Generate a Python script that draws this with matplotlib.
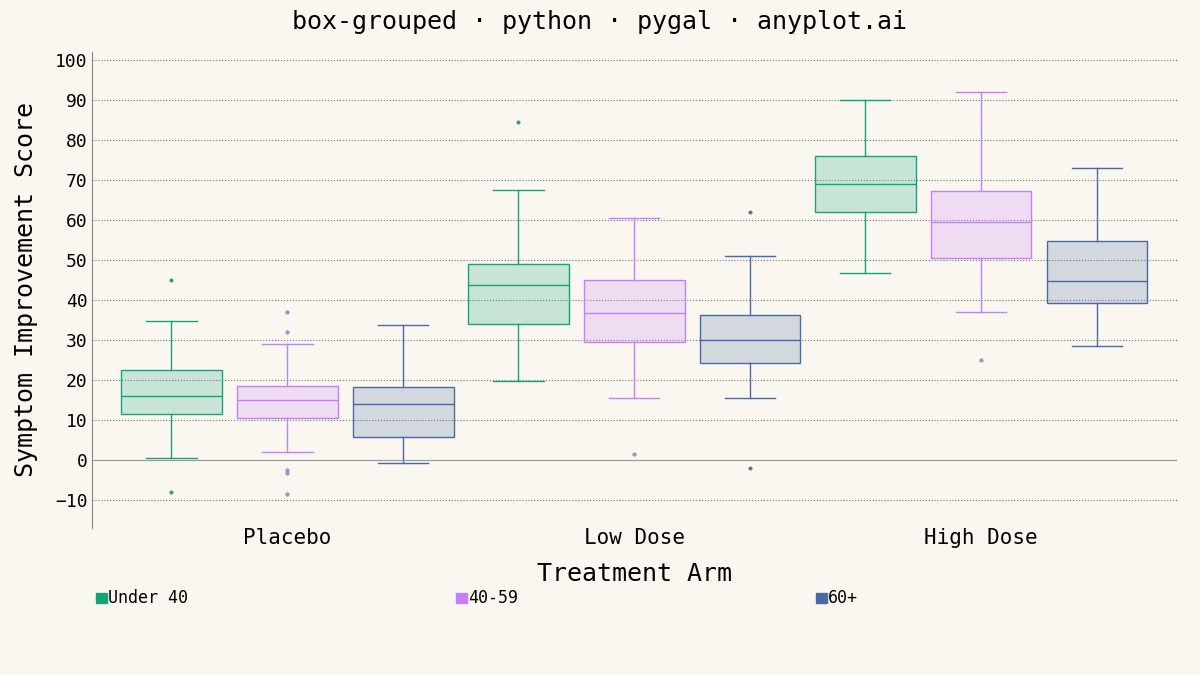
import matplotlib
matplotlib.use("Agg")
import matplotlib.pyplot as plt

groups = ["Placebo", "Low Dose", "High Dose"]
series = ["Under 40", "40-59", "60+"]
colors = ["#16a37a", "#c77dff", "#4a6aa5"]
# [whislo, q1, med, q3, whishi], outliers
stats = {
    "Under 40": [[0.5, 11.5, 16.0, 22.5, 34.8], [19.8, 34.0, 43.8, 49.0, 67.5], [46.8, 62.0, 69.0, 76.0, 90.0]],
    "40-59":    [[2.0, 10.5, 15.0, 18.5, 29.0], [15.5, 29.5, 36.8, 45.0, 60.5], [37.0, 50.5, 59.5, 67.2, 92.0]],
    "60+":      [[-0.8, 5.7, 14.0, 18.3, 33.8], [15.5, 24.3, 30.0, 36.2, 51.0], [28.5, 39.3, 44.8, 54.7, 73.0]],
}
fliers = {
    "Under 40": [[45, -8], [84.5], []],
    "40-59":    [[37, 32, -2.5, -3.2, -8.5], [1.5], [25]],
    "60+":      [[], [62, -2], []],
}

bg = "#faf7f0"
plt.rcParams["font.family"] = "DejaVu Sans Mono"
fig = plt.figure(figsize=(12, 6.75), dpi=100, facecolor=bg)
ax = fig.add_axes([0.077, 0.218, 0.904, 0.705], facecolor=bg)

offsets = [-0.334, 0.0, 0.334]
for si, s in enumerate(series):
    c = colors[si]
    bx = []
    for gi in range(3):
        lo, q1, med, q3, hi = stats[s][gi]
        bx.append(dict(whislo=lo, q1=q1, med=med, q3=q3, whishi=hi, fliers=fliers[s][gi]))
    pos = [gi + offsets[si] for gi in range(3)]
    ax.bxp(bx, positions=pos, widths=0.29, patch_artist=True,
           boxprops=dict(facecolor=matplotlib.colors.to_rgba(c, 0.22), edgecolor=c, linewidth=1),
           medianprops=dict(color=c, linewidth=1),
           whiskerprops=dict(color=c, linewidth=1),
           capprops=dict(color=c, linewidth=1),
           capwidths=0.145,
           flierprops=dict(marker="o", markersize=2.5, markerfacecolor=c, markeredgecolor="#888888", markeredgewidth=0.4))

ax.set_xlim(-0.562, 2.565)
ax.set_ylim(-17, 102)
ax.set_yticks(range(-10, 101, 10))
ax.set_xticks(range(3))
ax.set_xticklabels(groups, fontsize=15)
ax.tick_params(axis="y", labelsize=13, length=0)
ax.tick_params(axis="x", length=0, pad=0)
ax.grid(axis="y", linestyle=":", color="#777777", linewidth=0.8)
ax.axhline(0, color="#999999", linewidth=0.8)
ax.set_axisbelow(True)
for sp in ["top", "right", "bottom"]:
    ax.spines[sp].set_visible(False)
ax.spines["left"].set_color("#888888")
ax.set_xlabel("Treatment Arm", fontsize=18, labelpad=10)
ax.set_ylabel("Symptom Improvement Score", fontsize=18, labelpad=12)
fig.suptitle("box-grouped · python · pygal · anyplot.ai", fontsize=18, y=0.985)

for i, (s, c) in enumerate(zip(series, colors)):
    x = 0.08 + i * 0.3
    fig.patches.append(matplotlib.patches.Rectangle((x, 0.106), 0.009, 0.016, transform=fig.transFigure, color=c))
    fig.text(x + 0.01, 0.114, s, fontsize=12, va="center")

fig.savefig("out.png", dpi=100, facecolor=bg)
